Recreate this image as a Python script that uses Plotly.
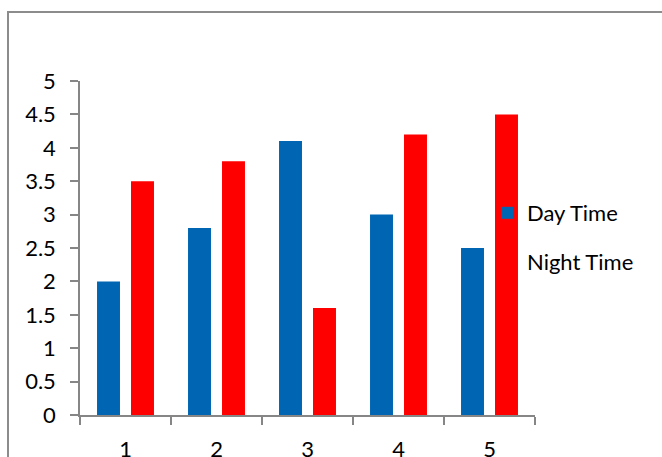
import plotly.graph_objects as go

categories = ["1", "2", "3", "4", "5"]
day_time = [2, 2.8, 4.1, 3, 2.5]
night_time = [3.5, 3.8, 1.6, 4.2, 4.5]
y_ticks = [0, 0.5, 1, 1.5, 2, 2.5, 3, 3.5, 4, 4.5, 5]
y_tick_text = ["0", "0.5", "1", "1.5", "2", "2.5", "3", "3.5", "4", "4.5", "5"]

W, H = 662, 457
L, R, T, B = 80, 127, 81, 42

fig = go.Figure()
fig.add_trace(go.Bar(x=categories, y=day_time, name="Day Time",
                     marker=dict(color="#0066B3", line=dict(width=0)),
                     legendgroup="a"))
fig.add_trace(go.Bar(x=categories, y=night_time, name="Night Time",
                     marker=dict(color="#FF0000", line=dict(width=0)),
                     legendgroup="b"))

pw = W - L - R
ph = H - T - B
fig.add_shape(type="rect", xref="paper", yref="paper",
              x0=(8 - L) / pw, x1=(W + 20 - L) / pw,
              y0=-1, y1=(H - B - 12) / ph,
              line=dict(color="#8c8c8c", width=2), fillcolor="rgba(0,0,0,0)",
              layer="below")

font_family = "Lato, 'Open Sans', sans-serif"
fig.update_layout(
    width=W, height=H,
    margin=dict(l=L, r=R, t=T, b=B, pad=0, autoexpand=False),
    paper_bgcolor="white", plot_bgcolor="white",
    barmode="group", bargap=0.253, bargroupgap=0.324,
    font=dict(family=font_family, size=22, color="black"),
    showlegend=True,
    legend=dict(x=(487 - L) / pw, xanchor="left", y=(H - B - 192) / ph, yanchor="top",
                font=dict(size=22, family=font_family),
                tracegroupgap=17, bgcolor="rgba(0,0,0,0)", itemclick=False),
    xaxis=dict(type="category", showline=True, linecolor="#868686", linewidth=1.5,
               ticks="outside", ticklen=8, tickcolor="#868686", tickwidth=1.5,
               tickson="boundaries", showgrid=False, zeroline=False, automargin=False,
               ticklabelstandoff=14, tickfont=dict(size=22)),
    yaxis=dict(range=[0, 5], tickvals=y_ticks, ticktext=y_tick_text,
               showline=True, linecolor="#868686", linewidth=1.5,
               ticks="outside", ticklen=8, tickcolor="#868686", tickwidth=1.5,
               showgrid=False, zeroline=False, ticklabelstandoff=10, automargin=False,
               tickfont=dict(size=22)),
)

fig.write_html("out.html")
